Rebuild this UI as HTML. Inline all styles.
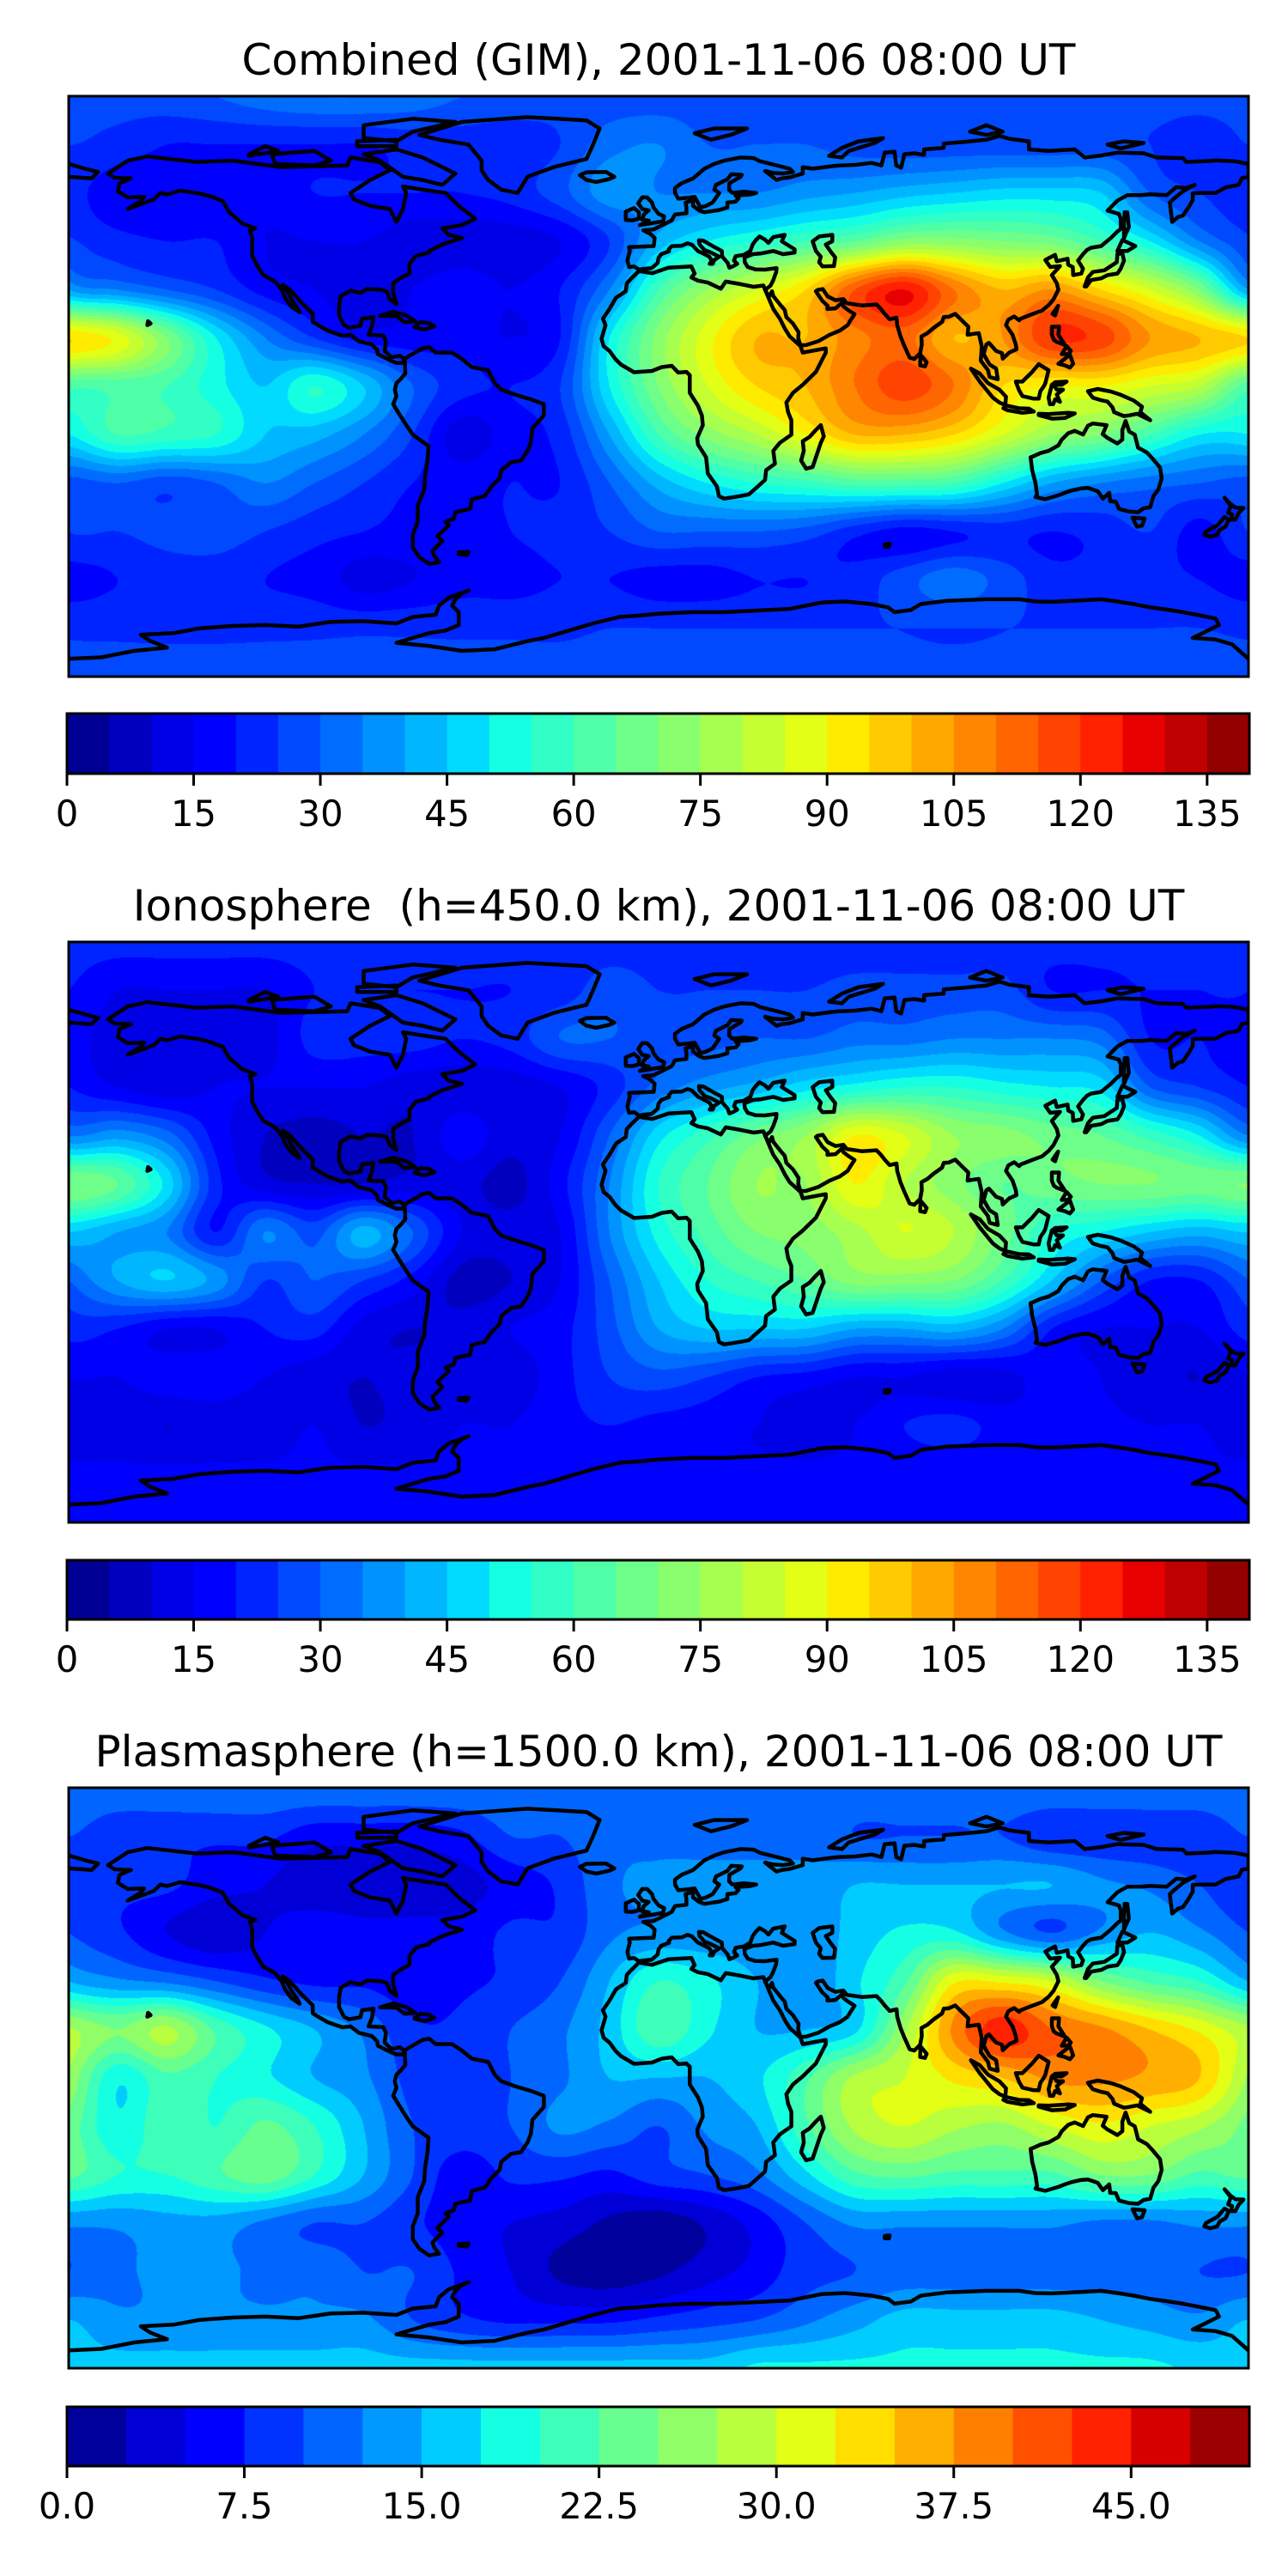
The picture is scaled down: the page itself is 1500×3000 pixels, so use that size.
<!DOCTYPE html>
<html><head><meta charset="utf-8">
<style>
html,body{margin:0;padding:0;background:#fff;}
#wrap{position:relative;width:1500px;height:3000px;overflow:hidden;background:#fff;}
canvas{position:absolute;}
svg{position:absolute;left:0;top:0;}
text{font-family:"DejaVu Sans","Liberation Sans",sans-serif;fill:#000;}
</style></head>
<body>
<div id="wrap">
<canvas id="c0" width="1374" height="676" style="left:80px;top:112px"></canvas>
<canvas id="c1" width="1374" height="676" style="left:80px;top:1097px"></canvas>
<canvas id="c2" width="1374" height="676" style="left:80px;top:2082px"></canvas>
<svg id="ov" width="1500" height="3000">
<text x="767" y="87" font-size="50" text-anchor="middle" style="white-space:pre">Combined (GIM), 2001-11-06 08:00 UT</text>
<text x="767" y="1072" font-size="50" text-anchor="middle" style="white-space:pre" xml:space="preserve">Ionosphere  (h=450.0 km), 2001-11-06 08:00 UT</text>
<text x="767" y="2057" font-size="50" text-anchor="middle" style="white-space:pre">Plasmasphere (h=1500.0 km), 2001-11-06 08:00 UT</text>
</svg>
</div>
<script>
// ---- data: 15-degree grids, rows lat 90..-90, cols lon -180..180 ----
const gimGrid = [
[27,27,28,30,33,35,35,33,30,28,27,27,27,27,27,27,27,27,27,27,27,27,27,27,27],
[25,23,20,20,20,20,20,22,22,22,25,33,35,30,30,30,28,27,27,27,27,27,25,22,25],
[22,17,17,17,17,20,20,20,20,22,28,38,35,35,35,38,40,43,45,47,47,45,30,25,22],
[26,22,20,20,15,15,15,12,12,12,15,25,42,50,55,60,65,72,72,70,68,60,50,35,26],
[40,35,30,25,18,15,12,15,18,15,20,35,60,75,85,95,115,125,110,100,105,95,85,70,40],
[95,88,70,50,35,25,18,17,18,15,20,50,72,88,100,100,108,112,100,105,120,118,105,100,95],
[62,62,60,52,45,55,45,30,22,20,25,50,70,85,95,100,110,118,110,95,90,90,85,80,62],
[50,60,58,55,45,42,35,25,12,18,22,40,60,72,80,90,100,100,95,85,75,70,60,50,50],
[28,30,27,30,35,30,25,20,18,20,20,30,42,50,55,58,62,62,60,50,40,35,32,30,28],
[25,25,27,28,25,22,20,18,18,20,22,25,30,30,30,28,22,18,20,22,20,22,25,18,25],
[18,20,22,22,20,18,13,15,18,18,20,20,18,18,20,20,22,28,33,28,22,22,22,20,18],
[24,24,24,24,24,24,24,24,24,24,24,25,25,25,25,25,25,25,25,25,25,25,25,25,24],
[27,27,27,27,27,27,27,27,27,27,27,27,27,27,27,27,27,27,27,27,27,27,27,27,27]];
const ionoGrid = [
[22,22,22,22,22,22,22,22,22,22,22,22,22,22,22,22,22,22,22,22,22,22,22,22,22],
[20,15,15,15,15,20,20,20,20,20,22,28,25,25,25,25,27,27,27,27,20,20,20,20,20],
[17,13,13,13,13,22,22,22,20,22,30,30,28,28,30,30,33,33,35,35,35,33,20,20,17],
[20,15,12,15,15,15,15,12,12,12,15,22,32,38,42,48,52,55,55,52,50,48,30,25,20],
[35,38,32,18,10,8,10,10,18,12,15,30,48,58,68,75,90,85,75,72,68,65,58,50,35],
[70,65,48,22,12,10,10,12,12,8,18,35,55,65,75,75,90,80,72,65,68,70,70,68,70],
[45,40,35,20,35,28,42,30,15,12,15,35,52,62,70,72,78,85,80,68,55,50,45,42,45],
[30,40,45,38,25,30,25,18,8,10,15,30,45,55,60,65,72,72,70,60,45,30,20,20,30],
[22,20,15,15,20,22,13,10,12,15,18,28,40,45,45,45,40,40,42,35,20,15,15,15,22],
[15,15,18,18,15,12,10,12,12,12,18,25,28,25,20,18,15,15,12,13,18,15,12,10,15],
[12,12,10,12,12,15,10,12,15,15,18,20,18,17,15,13,15,20,22,18,17,16,15,15,12],
[16,16,16,16,16,16,16,16,16,16,16,16,16,16,16,16,16,16,16,16,16,16,16,16,16],
[17,17,17,17,17,17,17,17,17,17,17,17,17,17,17,17,17,17,17,17,17,17,17,17,17]];
const plasGrid = [
[12,12,12,12,12,12,12,12,12,12,12,12,12,12,12,12,12,12,12,12,12,12,12,12,12],
[10,8,8,8,8,6,6,6,7,10,10,12,12,12,12,12,10,10,10,10,8,8,8,8,10],
[8,8,8,6,5,3,3,3,4,6,8,12,13,13,13,13,15,15,15,15,15,13,12,10,8],
[10,8,5,3,5,7,6,6,6,8,8,12,13,13,13,13,16,18,18,13,10,13,15,13,10],
[15,13,12,10,8,7,7,6,7,8,10,15,20,18,15,13,17,22,32,32,30,25,22,20,15],
[28,25,28,22,18,15,12,8,8,10,12,16,22,18,15,15,17,27,38,44,40,38,35,32,28],
[27,18,22,20,18,15,13,9,8,10,12,15,15,15,17,22,28,30,33,35,38,38,37,35,27],
[24,18,22,20,23,20,15,10,9,10,13,12,10,13,15,22,28,30,28,27,30,32,30,28,24],
[23,20,20,22,24,20,15,10,6,8,8,7,9,10,12,17,22,23,22,22,22,25,25,22,23],
[13,13,14,14,12,10,10,8,6,5,4,2,1,3,6,10,13,13,13,13,13,12,12,13,13],
[10,12,13,13,12,12,10,10,7,5,2,1,2,4,6,9,10,11,11,11,11,11,11,10,10],
[15,13,13,13,13,13,13,10,8,7,7,7,8,9,10,12,14,16,16,16,16,15,14,13,15],
[16,16,16,16,16,16,16,16,16,16,16,16,16,16,18,18,18,18,18,18,18,18,18,17,16]];
const tecLevels = {min:0, max:140, step:5};
const plasLevels = {min:0, max:50, step:2.5};
const tecTicks = [0,15,30,45,60,75,90,105,120,135];
const tecTickLabels = ["0","15","30","45","60","75","90","105","120","135"];
const plasTicks = [0,7.5,15,22.5,30,37.5,45];
const plasTickLabels = ["0.0","7.5","15.0","22.5","30.0","37.5","45.0"];

// ---- coastlines (lon,lat) ----
const coasts = {
"north-america":[[-168,66],[-162,70],[-156,71.3],[-141,69.6],[-130,70],[-115,68],[-95,68.5],[-94,71],[-85,69.5],[-82,67],[-88,64],[-94,60],[-93,58],[-88,56],[-82,55],[-80,51],[-78,55],[-77,60],[-78,62],[-72,61],[-65,60],[-61,56],[-56,52],[-60,50],[-66,49],[-64,47],[-60,46],[-66,44],[-70,42],[-70,41.5],[-74,40.5],[-76,38],[-76,35],[-78,34],[-81,32],[-81,29],[-80,25.5],[-82,27],[-83,29.5],[-85,30],[-89,30.2],[-91,29],[-94,29.7],[-97,28],[-97.5,25],[-97.5,22],[-96,19],[-94.5,18.2],[-91,18.8],[-90.5,21],[-87,21.5],[-87.5,18.5],[-88.5,16],[-84,15.8],[-83.2,14],[-83.6,11],[-81.5,9],[-79,9.5],[-77.5,8.5],[-78,7.3],[-80,7.3],[-81.7,8],[-85.7,10],[-85.8,11.3],[-87.5,13],[-91.5,14],[-94,16],[-96.5,15.7],[-101,17.3],[-105.5,20],[-105.5,22.5],[-109,26],[-112.5,30],[-114.7,31.5],[-113,29],[-112,27],[-110,24],[-109.5,23],[-112,24.7],[-114,27.5],[-115,30],[-117,32.5],[-120.6,34.5],[-122.5,37.5],[-124,40.5],[-124,46],[-124.7,48.4],[-123,49],[-127,50.5],[-131,54],[-133,57.5],[-137,59],[-140,59.8],[-146,60.7],[-150,59.5],[-152,60],[-154,58],[-158,56.5],[-162,55],[-158,57.5],[-157,58.8],[-162,58.6],[-165,60.5],[-164.5,63],[-161,64.5],[-166,64.7],[-168,66]],
"greenland":[[-73,78],[-60,82],[-40,83.5],[-22,82.5],[-18,80],[-20,75],[-22,70.5],[-32,68],[-40,65],[-43,60],[-48,61],[-52,64],[-54,67],[-54,70],[-58,75],[-67,76.5],[-73,78]],
"baffin":[[-90,72],[-80,73.5],[-72,71],[-64,67],[-62,66],[-66,62.5],[-72,64],[-78,65],[-85,70],[-90,72]],
"victoria":[[-118,72],[-105,73],[-100,70],[-105,68.5],[-117,69],[-118,72]],
"ellesmere":[[-90,77],[-80,76],[-75,79],[-62,82],[-75,83],[-90,81],[-90,77]],
"banks":[[-125,72],[-120,74.5],[-116,73],[-125,71.5],[-125,72]],
"devon":[[-92,76],[-80,76.5],[-80,74.5],[-92,74.5],[-92,76]],
"south-america":[[-77.5,8.5],[-76,9.5],[-72,11.8],[-70,12.2],[-68,10.5],[-63,10.5],[-60,8.5],[-57,6],[-52,5],[-50,1],[-48,-1],[-44,-2.5],[-39,-4],[-35,-5.5],[-35,-9],[-38.5,-13],[-39,-17.5],[-40,-20],[-42,-23],[-45,-23.5],[-48,-26],[-48.5,-28.5],[-51,-31],[-53,-34],[-57,-35],[-57.5,-38],[-62,-39],[-62.5,-41],[-65,-42],[-64,-43],[-66,-45],[-67.5,-46.5],[-66,-48],[-69,-51],[-68.5,-52.5],[-67,-54.5],[-70,-55],[-73,-53],[-75,-50],[-75,-46],[-73.5,-42],[-73.5,-37],[-71.5,-32],[-71.3,-28],[-70.5,-23],[-70.2,-18.5],[-75,-15],[-77,-12],[-79.5,-8],[-81,-5.5],[-80,-3],[-80.5,-1],[-80,1],[-78.5,2.5],[-77.3,4],[-77.4,7],[-77.5,8.5]],
"africa":[[-6,35.8],[-2,35.1],[3,36.8],[10,37.2],[11,35],[10,33.8],[12,32.8],[15,32.2],[19,30.3],[20.5,32.5],[25,31.7],[29,30.9],[32,31.3],[32.5,30],[35,24],[37,21],[38.5,18],[40,15.5],[43.3,12.5],[44,10.5],[51,11.8],[51,10.5],[48,4.5],[44,0.5],[41,-2],[39,-5],[39.5,-8],[40.5,-10.5],[40.5,-15],[37,-17.5],[35,-20],[35.5,-24],[32.8,-26],[32.5,-29],[30,-31.3],[27.5,-33.5],[25,-34],[20,-34.8],[18.4,-34],[17.8,-31],[15,-27],[14.5,-22],[12,-18],[11.8,-16],[13.5,-12],[13.2,-9],[12,-6],[9.5,-2],[9.5,1],[9.5,3.5],[8.5,4.5],[6,4.3],[4,6.4],[1,6],[-2,4.8],[-7.5,4.4],[-11.5,6.8],[-13.2,8.5],[-15,11],[-16.8,12.5],[-17.4,14.8],[-16.2,19],[-17,21],[-15,24],[-13,27.5],[-10,29.5],[-9.7,32],[-8.5,33.3],[-6,35.8]],
"madagascar":[[49.5,-12],[50.4,-15.5],[49.5,-17.5],[48,-22],[47,-25],[45,-25.5],[43.5,-23],[44.3,-20],[44,-17],[46,-15.7],[48,-13.5],[49.5,-12]],
"eurasia":[[-9,37],[-9.5,39],[-8.8,42],[-9,43.2],[-4,43.4],[-1.5,43.5],[-1.2,46],[-2.5,47.3],[-4.7,48.4],[-1.5,48.7],[1.5,50.2],[4,51.5],[5,53.3],[8.5,53.7],[8.5,55.5],[8.2,57],[10.5,57.7],[10.5,56],[12.5,54.5],[14,54],[18.5,54.7],[21,55.5],[21,57],[23.5,57.3],[24.4,58.3],[23.5,59.2],[28,59.5],[29.8,60],[26,60.4],[22.5,60],[21.5,61],[21.6,63],[25,65],[25.4,65.6],[22.2,65.8],[21,64.2],[17.5,62.5],[17,61],[18.5,60],[16.5,57],[14.5,56],[12.8,55.5],[11,58.8],[9,58.5],[6,58.2],[5,60],[5,61.5],[7,63],[10.5,64.5],[14,67.5],[17,69],[20,70],[25,71],[29,70.8],[31,69.8],[33,69.3],[40,67.5],[41,66.5],[38,66],[35,66.2],[32.5,66.8],[36,64],[37.5,64.5],[40,64.8],[44,66],[44,68],[47,67.5],[53,68.3],[55,68.5],[60,68.7],[65,69.3],[68,68.5],[69,72.5],[72,72.8],[72.5,68.5],[74,67.8],[75,72],[78,72.3],[81,71.8],[81,73.5],[87,74],[87,75.3],[95,76],[100,76.5],[104,77.7],[107,76.8],[113,76],[113,73.5],[119,73],[127,73.5],[130,71],[135,71.6],[140,72.5],[148,72.3],[152,71],[160,70.8],[161,69.6],[168,69.9],[170,70.1],[176,69.8],[180,69],[180,65],[178,64.6],[177,62.5],[173,61.7],[170,60],[166,60],[163,59.9],[163,57.8],[162,56],[160,53],[158.5,52.5],[156.7,51],[156,57],[157,58],[160,60.5],[163.6,62.5],[161,61.5],[158,61.8],[155,59.3],[150,59.6],[147,59.3],[143,59.3],[140,57.6],[137,54.5],[140.5,53.5],[141,52],[141,48.8],[140,48],[138,46],[135,43.5],[132,43],[130.7,42.3],[129.5,41],[128,39],[129.5,36.5],[129,35],[126.5,34.5],[126.4,37],[125,37.7],[124.8,39.6],[121.5,38.8],[121,40.8],[118,39.2],[119.5,37],[122.5,37.3],[120,34.5],[121.5,32],[122,30],[120.5,27],[119,25.2],[117,23.5],[113.5,22.2],[110.5,21],[110,20.5],[108.5,21.7],[106.7,20.7],[106,19],[108,16],[109,13],[109.2,11.5],[107,10.5],[105,8.6],[104.8,10.3],[103,11],[100.8,13.5],[100,13],[99.2,10],[100.3,8],[101,6.8],[103,5.5],[103.5,2.2],[101,2.9],[100.5,5],[98.3,8],[98.5,10.5],[98.6,12.5],[97.7,16.5],[96,16.3],[94.3,16],[94.5,18.5],[92,21],[90.5,22.5],[88.5,21.6],[87,21.5],[86.5,20],[84,18.2],[82,16.5],[80.2,15.5],[80.3,13],[79.8,10.3],[78,8.5],[76.6,8.9],[75,12.5],[73.8,15.5],[72.8,19],[72.6,21.3],[70.5,20.8],[69,22.5],[68,23.8],[66.5,25.4],[62,25.1],[57.4,25.8],[56.4,27.1],[54,26.7],[51.6,27.9],[50.1,30.2],[48.5,29.9],[48,29.5],[50,26.5],[51.6,25],[51.5,24],[54,24.2],[56,26],[56.4,24.8],[57.8,23.7],[59.8,22.4],[58.5,20.4],[57.7,19],[55.3,17.3],[52.2,16],[48.7,14],[45,12.8],[43.3,12.7],[42.6,15],[42.7,16.8],[41,19.5],[39,21.5],[38.5,23.7],[37.2,25.2],[35,28],[34.6,29.5],[33.7,27.8],[32.5,29.9],[34.2,31.3],[35,33],[35.9,35.5],[36,36.7],[32.5,36.2],[29.5,36.3],[27.2,37],[26.3,38.5],[26.2,40],[28.8,41],[31,41.2],[35,42],[38,41],[41.5,41.5],[41.5,42.5],[37.6,45],[38.5,47],[35,46.3],[33.5,44.5],[32.5,45.5],[30.8,46.5],[29.6,45.3],[28.7,44],[28,42],[26,40.8],[23.5,40.4],[23,39],[24,38],[22.8,37.3],[21.6,36.8],[21.1,38.3],[19.4,40.3],[19.3,42],[16.5,43.5],[13.6,45.2],[12.3,45.3],[12.5,44],[14,42.3],[16,41.5],[18.5,40.2],[17,39.2],[16.5,38],[15.6,38],[16.2,39],[15.5,40.2],[13.6,41.2],[12,42],[10.2,43.9],[8.8,44.4],[7,43.6],[4,43.5],[3.1,42.5],[3.2,41.9],[0.8,41],[0,39.9],[-0.3,38.3],[-2.1,36.7],[-5,36.4],[-6,36.2],[-7.5,37.2],[-9,37]],
"caspian":[[47,45],[49,46.5],[53,47],[53,45],[51,44],[52.5,41.8],[53.9,40],[53.5,37.3],[50,37.2],[49,38.5],[49.5,40.2],[48,42],[47,45]],
"great-britain":[[-5.7,50],[1.4,51.2],[1.7,52.7],[0,53.5],[-1.6,55.6],[-2,57],[-3.5,58.6],[-5,58.6],[-6.2,56.8],[-5,55],[-3,54.6],[-4.5,53.3],[-5,51.7],[-3,51.4],[-5.7,50]],
"ireland":[[-6,52],[-6,54],[-7.5,55.3],[-10,54.2],[-10,51.6],[-8,51.5],[-6,52]],
"iceland":[[-22,64],[-24,65.5],[-22,66.4],[-16,66.5],[-13.5,65],[-15,64.3],[-19,63.4],[-22,64]],
"honshu":[[130,31],[131,33.8],[132.5,35.5],[136,36],[139.8,38.5],[140,41],[141.5,41.3],[142,39],[141,36.5],[140,35],[137,34.5],[135,33.5],[132,33],[130.5,31],[130,31]],
"hokkaido":[[140,42],[141.5,45.4],[145.5,43.5],[143,42],[140,42]],
"sakhalin":[[142,46],[143.5,49.5],[143,54],[142.2,54],[142,50],[142,46]],
"taiwan":[[120.2,22.5],[121.9,25],[121,22],[120.2,22.5]],
"luzon":[[120,18.5],[122.2,18.5],[122,16],[124,12.8],[121.5,13.8],[120.6,14.4],[120,16],[120,18.5]],
"visayas":[[124.5,12.5],[125.8,11],[125,10],[123,10],[124.5,12.5]],
"mindanao":[[122,7],[125.5,9.8],[126.5,7],[125.5,5.8],[124,6.5],[122,7]],
"borneo":[[109,1.5],[111,1.5],[114,4.5],[116,6.9],[119,5],[118,1],[117.5,0],[116.5,-1.5],[116,-3.8],[114.5,-3.8],[111,-3],[110,-1.2],[109,1.5]],
"sumatra":[[95.3,5.5],[98,4],[100.5,1],[104,-1],[106,-3.2],[105.8,-5.8],[104,-5],[102,-3.5],[100,-1],[98,1.5],[95.3,5.5]],
"java":[[105.2,-6.8],[106,-5.9],[110,-6.8],[113,-6.9],[114.5,-7.8],[111,-8.2],[106.5,-7.4],[105.2,-6.8]],
"sulawesi":[[119.4,-5.5],[119,-3.5],[120,0.5],[121,1.3],[124.5,1.5],[123,0.5],[120.5,0.5],[121.5,-1],[123.4,-1],[121.5,-2.5],[122.5,-4.8],[121,-4],[120.4,-5.5],[119.4,-5.5]],
"lesser-sunda":[[116,-8.5],[119,-8.6],[122,-8.4],[125,-8.2],[127,-8.4],[124,-9.8],[120,-10],[116,-8.9],[116,-8.5]],
"new-guinea":[[131,-1.5],[134,-0.8],[138,-1.6],[141,-2.6],[145,-4.4],[147.5,-6.3],[147,-8],[150,-10.5],[146,-8.5],[143.5,-9],[142,-9.2],[139,-8],[138.5,-6.5],[137,-4.7],[135,-4.3],[132.5,-3.5],[131,-1.5]],
"australia":[[113.5,-22],[114,-26],[115,-30],[115.5,-33.5],[115,-34.3],[118,-35],[122,-33.8],[124,-33],[126,-32.3],[129,-31.6],[131,-31.5],[134,-32.5],[135.6,-34.8],[137.5,-33],[137.8,-35.6],[139.5,-35.7],[140.5,-38],[143.5,-38.8],[146.3,-39],[148,-37.8],[150,-37.5],[151,-34],[152.5,-32],[153.5,-28.5],[153,-25.2],[150.8,-22.5],[149,-20.5],[146.3,-19],[145.3,-15],[143.6,-14],[142.5,-10.7],[141.5,-13.5],[141.5,-16.5],[140,-17.7],[137,-16],[135.5,-14.8],[136.7,-12],[132.5,-11.5],[131,-12.2],[129.5,-14.9],[127,-13.8],[125,-14.5],[123,-16.5],[122,-18.3],[119,-20],[116.5,-20.7],[114,-21.8],[113.5,-22]],
"tasmania":[[144.6,-40.7],[148.3,-41],[147.5,-43.2],[146,-43.5],[144.6,-40.7]],
"nz-north":[[172.7,-34.5],[174.5,-36.5],[176,-37.6],[178.5,-37.7],[177,-39.3],[176,-41.3],[174.7,-41.3],[175,-39.7],[173.8,-39.2],[174.6,-37],[172.7,-34.5]],
"nz-south":[[172.7,-40.5],[174,-41.3],[173,-43.5],[171.2,-44.5],[170.5,-46],[168.3,-46.6],[166.5,-46],[167,-45],[170.6,-43],[172.7,-40.5]],
"sri-lanka":[[79.8,6.5],[79.9,9.8],[81.8,7.5],[81.3,6.2],[79.8,6.5]],
"cuba":[[-85,21.9],[-81,23.1],[-77,22],[-74.2,20.2],[-77.5,19.9],[-80,21.8],[-85,21.9]],
"hispaniola":[[-74.5,18.4],[-72.8,19.9],[-70,19.6],[-68.4,18.6],[-71.5,17.6],[-74.5,18.4]],
"novaya-zemlya":[[52,71.5],[56,74],[61,76],[68.5,77],[66,75.5],[58,73],[56,71],[52,71.5]],
"svalbard":[[11,78.5],[17,80],[27,80],[22,78],[16,76.5],[11,78.5]],
"severnaya-zemlya":[[95,79],[100,81],[105,79],[100,78],[95,79]],
"new-siberian":[[137,75],[142,76],[148,75.5],[141,73.8],[137,75]],
"chukotka-west":[[-180,69],[-175,67.5],[-171,66.5],[-173,64.5],[-180,65]],
"hawaii":[[-156,19],[-155,19.5],[-155.8,20.2],[-156,19]],
"falklands":[[-61,-51.5],[-58,-51.3],[-58.5,-52.3],[-61,-52],[-61,-51.5]],
"kerguelen":[[69,-49],[70.5,-48.8],[70.3,-49.7],[69,-49.7],[69,-49]],
"antarctica":[[-180,-84.5],[-170,-84],[-160,-82],[-150,-81],[-155,-79],[-158,-77],[-148,-76.5],[-140,-75],[-130,-74.3],[-120,-74],[-110,-74.5],[-100,-73],[-90,-72.8],[-80,-73.5],[-75,-71.5],[-68,-70.8],[-67,-68],[-64,-65.5],[-58,-63.3],[-60,-64.2],[-62,-66],[-63,-68],[-61,-70],[-61,-74],[-65,-75.7],[-70,-76.5],[-75,-78],[-80,-79.5],[-70,-80.5],[-60,-82],[-50,-81.5],[-40,-79],[-35,-78],[-30,-76.5],[-20,-73.5],[-12,-71.5],[-5,-71],[0,-70.5],[10,-70],[20,-70],[30,-69.5],[40,-69],[50,-67],[57,-66.7],[65,-67.5],[70,-68.5],[72,-70],[77,-69.3],[80,-67.5],[88,-66.5],[95,-66.2],[100,-66],[110,-66],[115,-66.7],[120,-66.8],[130,-66.3],[135,-66],[140,-66.7],[145,-67.5],[150,-68.5],[155,-69.2],[160,-70],[165,-71],[170,-72],[171,-74],[165,-77],[163,-78],[170,-78.5],[175,-80],[180,-84.5]]
};

// ---- layout ----
const MAP_X=80, MAP_W=1374, MAP_H=676;
const CB_X=78, CB_W=1377;
const panels=[
 {id:'combined', canvas:'c0', grid:gimGrid, lev:tecLevels, mapY:112, cbY:831, cbH:70, ticks:tecTicks, labels:tecTickLabels},
 {id:'ionosphere', canvas:'c1', grid:ionoGrid, lev:tecLevels, mapY:1097, cbY:1817, cbH:69, ticks:tecTicks, labels:tecTickLabels},
 {id:'plasmasphere', canvas:'c2', grid:plasGrid, lev:plasLevels, mapY:2082, cbY:2803, cbH:69, ticks:plasTicks, labels:plasTickLabels}
];

function jetSeg(pts,t){for(let i=1;i<pts.length;i++){if(t<=pts[i][0]){const a=pts[i-1],b=pts[i];return a[1]+(b[1]-a[1])*(t-a[0])/(b[0]-a[0]);}}return pts[pts.length-1][1];}
const JR=[[0,0],[0.35,0],[0.66,1],[0.89,1],[1,0.5]];
const JG=[[0,0],[0.125,0],[0.375,1],[0.64,1],[0.91,0],[1,0]];
const JB=[[0,0.5],[0.11,1],[0.34,1],[0.65,0],[1,0]];
function jet(t){return [Math.round(255*jetSeg(JR,t)),Math.round(255*jetSeg(JG,t)),Math.round(255*jetSeg(JB,t))];}
function cr(p0,p1,p2,p3,t){return 0.5*((2*p1)+(-p0+p2)*t+(2*p0-5*p1+4*p2-p3)*t*t+(-p0+3*p1-3*p2+p3)*t*t*t);}

function renderField(p){
  const g=p.grid, nr=g.length, nc=g[0].length;
  const N=Math.round((p.lev.max-p.lev.min)/p.lev.step);
  const cols=[]; for(let k=0;k<N;k++) cols.push(jet((k+0.5)/N));
  const gv=(r,c)=>{r=Math.max(0,Math.min(nr-1,r)); if(c<0)c+=nc-1; if(c>nc-1)c-=nc-1; return g[r][c];};
  const cv=document.getElementById(p.canvas), ctx=cv.getContext('2d');
  const img=ctx.createImageData(MAP_W,MAP_H), d=img.data;
  for(let py=0;py<MAP_H;py++){
    const v=(py+0.5)/MAP_H*(nr-1), r0=Math.min(nr-2,Math.floor(v)), fy=v-r0;
    for(let px=0;px<MAP_W;px++){
      const u=(px+0.5)/MAP_W*(nc-1), c0=Math.min(nc-2,Math.floor(u)), fx=u-c0;
      const rows=[];
      for(let j=-1;j<=2;j++){const r=r0+j;rows.push(cr(gv(r,c0-1),gv(r,c0),gv(r,c0+1),gv(r,c0+2),fx));}
      const val=cr(rows[0],rows[1],rows[2],rows[3],fy);
      let k=Math.floor((val-p.lev.min)/p.lev.step); if(k<0)k=0; if(k>N-1)k=N-1;
      const c=cols[k], i=(py*MAP_W+px)*4;
      d[i]=c[0];d[i+1]=c[1];d[i+2]=c[2];d[i+3]=255;
    }
  }
  ctx.putImageData(img,0,0);
}

const NS='http://www.w3.org/2000/svg';
const ov=document.getElementById('ov');
function mk(tag,attrs,parent){const e=document.createElementNS(NS,tag);for(const k in attrs)e.setAttribute(k,attrs[k]);(parent||ov).appendChild(e);return e;}

panels.forEach((p,pi)=>{
  renderField(p);
  const defs=mk('defs',{});
  const cp=mk('clipPath',{id:'clip'+pi},defs);
  mk('rect',{x:MAP_X,y:p.mapY,width:MAP_W,height:MAP_H},cp);
  const cg=mk('g',{'clip-path':'url(#clip'+pi+')',fill:'none',stroke:'#000','stroke-width':4.5,'stroke-linejoin':'round','stroke-linecap':'round'});
  
  
  const lx=lon=>MAP_X+(lon+180)/360*MAP_W, ly=lat=>p.mapY+(90-lat)/180*MAP_H;
  for(const name in coasts){
    const pts=coasts[name].map(q=>lx(q[0]).toFixed(1)+','+ly(q[1]).toFixed(1)).join(' ');
    const pl=mk('polyline',{points:pts},cg);
    
    
  }
  const fr=mk('rect',{x:MAP_X,y:p.mapY,width:MAP_W,height:MAP_H,fill:'none',stroke:'#000','stroke-width':3});
  
  
  // colorbar
  const N=Math.round((p.lev.max-p.lev.min)/p.lev.step);
  const cbg=mk('g',{});
  
  
  const sx=v=>CB_X+(v-p.lev.min)/(p.lev.max-p.lev.min)*CB_W;
  for(let k=0;k<N;k++){
    const c=jet((k+0.5)/N);
    const x0=sx(p.lev.min+k*p.lev.step), x1=sx(p.lev.min+(k+1)*p.lev.step);
    const r=mk('rect',{x:x0,y:p.cbY,width:(x1-x0+0.6),height:p.cbH,fill:'rgb('+c.join(',')+')'},cbg);
    
    
  }
  mk('rect',{x:CB_X,y:p.cbY,width:CB_W,height:p.cbH,fill:'none',stroke:'#000','stroke-width':3},cbg);
  p.ticks.forEach((t,i)=>{
    const x=sx(t);
    const tk=mk('line',{x1:x,x2:x,y1:p.cbY+p.cbH,y2:p.cbY+p.cbH+14,stroke:'#000','stroke-width':3},cbg);
    
    
    const tx=mk('text',{x:x,y:p.cbY+p.cbH+61,'font-size':41.7,'text-anchor':'middle'},cbg);
    tx.textContent=p.labels[i];
    
    
  });
});
</script>
</body></html>
